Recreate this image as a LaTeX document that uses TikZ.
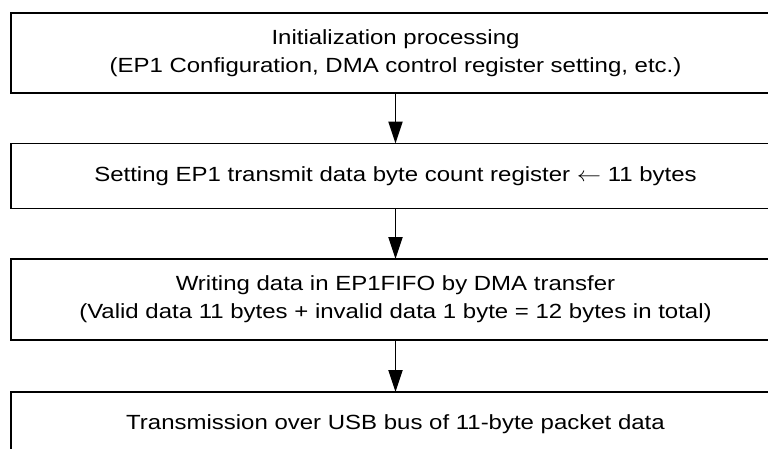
\documentclass[tikz,border=0pt]{standalone}
\usepackage{graphicx}
\usepackage{fontspec}
\setmainfont{Liberation Sans}
\usetikzlibrary{arrows.meta}
\newcommand{\wideline}[1]{\scalebox{1.17}[1]{#1}}
\begin{document}
\begin{tikzpicture}[x=1pt,y=-1pt,
  stepbox/.style={draw=black, line width=1.8pt, minimum width=769pt, inner sep=0pt, outer sep=0pt, anchor=north west, font=\fontsize{20.5}{28}\selectfont, align=center},
  flow/.style={line width=1.9pt, -{Triangle[length=22pt,width=14pt]}}]
\useasboundingbox (0,0) rectangle (768,448);
\clip (0,0) rectangle (768,448);
\fill[white] (0,0) rectangle (768,448);
\node[stepbox, minimum height=80pt] (b1) at (11,13) {\wideline{Initialization processing}\\\wideline{(EP1 Configuration, DMA control register setting, etc.)}};
\node[stepbox, minimum height=65pt] (b2) at (11,143.5) {\wideline{Setting EP1 transmit data byte count register $\leftarrow$ 11 bytes}};
\node[stepbox, minimum height=81pt] (b3) at (11,259) {\wideline{Writing data in EP1FIFO by DMA transfer}\\\wideline{(Valid data 11 bytes + invalid data 1 byte = 12 bytes in total)}};
\node[stepbox, minimum height=65pt] (b4) at (11,392) {\wideline{Transmission over USB bus of 11-byte packet data}};
\draw[flow] (b1.south) -- (b2.north);
\draw[flow] (b2.south) -- (b3.north);
\draw[flow] (b3.south) -- (b4.north);
\end{tikzpicture}
\end{document}
